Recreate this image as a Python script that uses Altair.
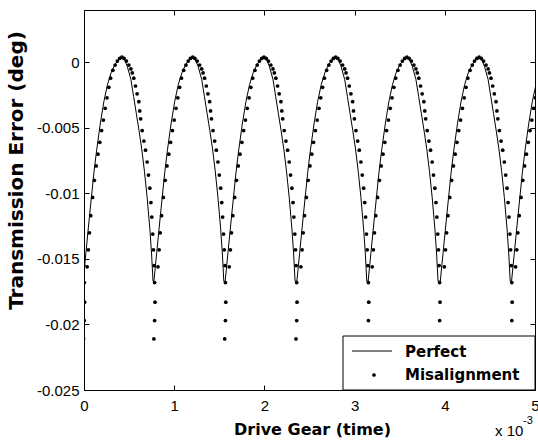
import altair as alt
import pandas as pd

# ---- values ----
# tooth-mesh peak positions (x, in 1e-3 s)
PEAKS = [-0.36, 0.42, 1.205, 1.995, 2.79, 3.58, 4.38, 5.17]

# one mesh cycle of the "Perfect" curve: offset from peak, transmission error (deg)
PERF_OFF = [-0.43, -0.40, -0.36, -0.31, -0.28, -0.24, -0.20, -0.16, -0.12, -0.08, -0.04,
            0.00, 0.03, 0.06, 0.10, 0.13, 0.16, 0.19, 0.22, 0.25, 0.28, 0.31, 0.33, 0.345]
PERF_Y = [-0.0167, -0.0146, -0.0118, -0.0084, -0.0067, -0.0047, -0.0030, -0.0017, -0.0008,
          -0.0002, 0.0002, 0.0003, 0.0002, -0.0003, -0.0013, -0.0026, -0.0039, -0.0052,
          -0.0066, -0.0083, -0.0103, -0.0127, -0.0147, -0.0167]

# one mesh cycle of the "Misalignment" samples
MIS_OFF = [-0.385, -0.372, -0.36, -0.345, -0.325, -0.305, -0.285, -0.265, -0.245, -0.225,
           -0.205, -0.185, -0.165, -0.145, -0.125, -0.10, -0.075, -0.05, -0.025, 0.0,
           0.025, 0.05, 0.077, 0.10, 0.115, 0.132, 0.151, 0.169, 0.188, 0.198, 0.208,
           0.225, 0.244, 0.262, 0.28, 0.295, 0.31, 0.322, 0.332, 0.342, 0.35, 0.357,
           0.363, 0.367, 0.363, 0.355]
MIS_Y = [-0.0156, -0.0143, -0.0130, -0.0117, -0.0103, -0.0090, -0.0079, -0.0070, -0.0061,
         -0.0052, -0.0044, -0.0035, -0.0027, -0.0019, -0.0012, -0.0006, -0.0002, 0.0001,
         0.0003, 0.0004, 0.0003, 0.0001, -0.0002, -0.0005, -0.0008, -0.0012, -0.0018,
         -0.0024, -0.0030, -0.0037, -0.0043, -0.0052, -0.0060, -0.0067, -0.0076, -0.0086,
         -0.0096, -0.0107, -0.0118, -0.0131, -0.0143, -0.0155, -0.0168, -0.0183, -0.0197,
         -0.0211]

SERIES = ["Perfect", "Misalignment"]
X_TICKS = [0, 1, 2, 3, 4, 5]
Y_TICKS = [0, -0.005, -0.01, -0.015, -0.02, -0.025]
X_DOMAIN = [0, 5]
Y_DOMAIN = [-0.025, 0.004]
X_TITLE = "Drive Gear (time)"
Y_TITLE = "Transmission Error (deg)"

# ---- build tables ----
perf_rows, mis_rows = [], []
for c in PEAKS:
    for o, v in zip(PERF_OFF, PERF_Y):
        perf_rows.append({"t": round(c + o, 4), "te": v, "series": SERIES[0]})
    for o, v in zip(MIS_OFF, MIS_Y):
        mis_rows.append({"t": round(c + o, 4), "te": v, "series": SERIES[1]})
perf = pd.DataFrame(perf_rows)
mis = pd.DataFrame(mis_rows)

xs = alt.Scale(domain=X_DOMAIN, nice=False, zero=False)
ys = alt.Scale(domain=Y_DOMAIN, nice=False, zero=False)

TICK = 5
common = dict(domain=False, grid=False, ticks=True, tickSize=TICK, offset=-TICK,
              tickColor="black", tickWidth=1)

x_bottom = alt.Axis(values=X_TICKS, format="d", orient="bottom", labelFont="Liberation Sans",
                    labelFontSize=15, labelColor="black", labelPadding=8, labelFlush=False,
                    title=X_TITLE, titleFont="DejaVu Sans", titleFontWeight="bold",
                    titleFontSize=16, titleColor="black", titleX=228, titleY=44,
                    titleAlign="center", titleBaseline="middle", **common)
y_left = alt.Axis(values=Y_TICKS, orient="left",
                  labelExpr="datum.value == 0 ? '0' : '-' + format(abs(datum.value), '~g')",
                  labelFont="Liberation Sans", labelFontSize=15, labelColor="black",
                  labelPadding=5, labelFlush=False,
                  title=Y_TITLE, titleFont="DejaVu Sans", titleFontWeight="bold",
                  titleFontSize=20, titleColor="black", titleX=-73, titleY=160,
                  titleAlign="center", titleBaseline="middle", titleAngle=270, **common)
x_top = alt.Axis(values=X_TICKS, orient="top", labels=False, title="", **common)
y_right = alt.Axis(values=Y_TICKS, orient="right", labels=False, title="", **common)

line = alt.Chart(perf).mark_line(color="black", strokeWidth=1, clip=True).encode(
    x=alt.X("t:Q", scale=xs, axis=x_bottom),
    y=alt.Y("te:Q", scale=ys, axis=y_left),
    order="t:Q",
)
pts = alt.Chart(mis).mark_circle(color="black", size=14, opacity=1, clip=True).encode(
    x=alt.X("t:Q", scale=xs, axis=x_top),
    y=alt.Y("te:Q", scale=ys, axis=y_right),
)

one = pd.DataFrame({"a": [0]})
box = alt.Chart(one).mark_rect(fill="white", stroke="black", strokeWidth=1).encode(
    x=alt.value(259), x2=alt.value(451), y=alt.value(326), y2=alt.value(380))
leg_line = alt.Chart(one).mark_rule(color="black", strokeWidth=1).encode(
    x=alt.value(268), x2=alt.value(308), y=alt.value(341))
leg_dot = alt.Chart(one).mark_circle(color="black", size=14, opacity=1).encode(
    x=alt.value(290), y=alt.value(365))
txt_kw = dict(align="left", baseline="middle", font="DejaVu Sans", fontWeight="bold",
              fontSize=15, color="black")
leg_t1 = alt.Chart(one).mark_text(**txt_kw).encode(
    x=alt.value(321), y=alt.value(342), text=alt.value(SERIES[0]))
leg_t2 = alt.Chart(one).mark_text(**txt_kw).encode(
    x=alt.value(321), y=alt.value(365), text=alt.value(SERIES[1]))
exp_base = alt.Chart(one).mark_text(align="left", baseline="middle", font="Liberation Sans",
                                    fontSize=15, color="black").encode(
    x=alt.value(411), y=alt.value(421), text=alt.value("x 10"))
exp_pow = alt.Chart(one).mark_text(align="left", baseline="middle", font="Liberation Sans",
                                   fontSize=11, color="black").encode(
    x=alt.value(439), y=alt.value(411), text=alt.value("-3"))

chart = alt.layer(line, pts, box, leg_line, leg_dot, leg_t1, leg_t2, exp_base, exp_pow).resolve_axis(
    x="independent", y="independent"
).properties(
    width=451, height=380,
    autosize=alt.AutoSizeParams(type="none"),
    padding={"left": 84, "top": 10, "right": 3, "bottom": 51},
    background="white",
).configure_view(stroke="black", strokeWidth=1)

chart.save("out.html", embed_options={"renderer": "svg", "actions": False})
